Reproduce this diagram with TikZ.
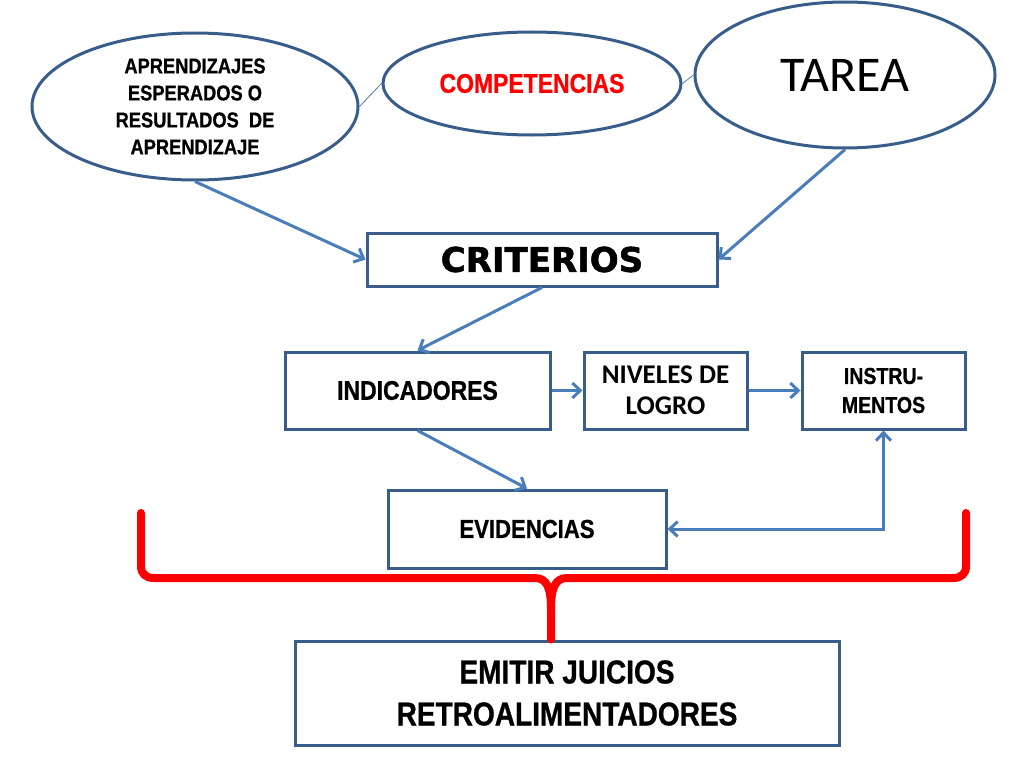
\documentclass[tikz,border=0pt]{standalone}
\usepackage{fontspec}
\setmainfont{Liberation Sans}
\newfontfamily\narrowfont{Liberation Sans}[FakeStretch=0.85,BoldFeatures={FakeBold=0.8}]
\newfontfamily\calibrifont{Carlito}
\newfontfamily\blackfont{DejaVu Sans}[BoldFeatures={FakeBold=1.5}]
\usetikzlibrary{shapes.geometric,arrows.meta}
\definecolor{boxblue}{HTML}{385D8A}
\definecolor{arrowblue}{HTML}{4A7EBB}

\begin{document}
\begin{tikzpicture}[x=1pt,y=-1pt,
    >={Straight Barb[length=8pt,width=15pt]},
    box/.style={draw=boxblue,line width=3pt,rectangle,inner sep=0pt,align=center},
    oval/.style={draw=boxblue,line width=3pt,ellipse,inner sep=0pt,align=center},
    link/.style={->,draw=arrowblue,line width=3pt},
    thinlink/.style={draw=arrowblue,line width=0.8pt},
    brace/.style={draw=red,line width=8pt,line cap=round,line join=round}]
    \fill[white] (0,0) rectangle (1024,768);
    \useasboundingbox (0,0) rectangle (1024,768);
    \node[oval,minimum width=326pt,minimum height=147pt,font=\narrowfont\bfseries\fontsize{21.5}{27}\selectfont] (aprend) at (195,106.5) {APRENDIZAJES\\ESPERADOS O\\RESULTADOS~~DE\\APRENDIZAJE};
    \node[oval,minimum width=298pt,minimum height=103pt,text=red,font=\narrowfont\bfseries\fontsize{27}{32}\selectfont] (comp) at (532,83.5) {COMPETENCIAS};
    \node[oval,minimum width=300pt,minimum height=146pt,font=\calibrifont\fontsize{50}{60}\selectfont] (tarea) at (845,75) {TAREA};
    \node[box,minimum width=350pt,minimum height=53pt,font=\blackfont\bfseries\fontsize{34}{40}\selectfont] (crit) at (542,259.5) {CRITERIOS};
    \node[box,minimum width=265pt,minimum height=77pt,font=\narrowfont\bfseries\fontsize{27}{32}\selectfont] (ind) at (417.5,390.5) {INDICADORES};
    \node[box,minimum width=163pt,minimum height=77pt,font=\calibrifont\bfseries\fontsize{27}{31}\selectfont] (niv) at (665.5,390.5) {NIVELES DE\\LOGRO};
    \node[box,minimum width=163pt,minimum height=77pt,font=\narrowfont\bfseries\fontsize{23}{29}\selectfont] (instr) at (883.5,390.5) {INSTRU-\\MENTOS};
    \node[box,minimum width=278pt,minimum height=78pt,font=\narrowfont\bfseries\fontsize{26}{31}\selectfont] (evid) at (527,529) {EVIDENCIAS};
    \node[box,minimum width=544pt,minimum height=104pt,font=\narrowfont\bfseries\fontsize{33}{42}\selectfont] (emitir) at (567,693) {EMITIR JUICIOS\\RETROALIMENTADORES};
    \draw[thinlink] (aprend.east) -- (comp.west);
    \draw[thinlink] (comp.east) -- (tarea.west);
    \draw[link] (aprend.south) -- (crit.west);
    \draw[link] (tarea.south) -- (crit.east);
    \draw[link] (crit.south) -- (ind.north);
    \draw[link] (ind.east) -- (niv.west);
    \draw[link] (niv.east) -- (instr.west);
    \draw[link] (ind.south) -- (evid.north);
    \draw[link,<->] (evid.east) -| (instr.south);
    \draw[brace] (141,513) -- (141,566) .. controls (141,574) and (146,578) .. (154,578) -- (535,578) .. controls (548,578) and (551,590) .. (551,610) -- (emitir.north -| 551,0);
    \draw[brace] (966,513) -- (966,566) .. controls (966,574) and (961,578) .. (953,578) -- (567,578) .. controls (554,578) and (551,590) .. (551,610);
\end{tikzpicture}
\end{document}
